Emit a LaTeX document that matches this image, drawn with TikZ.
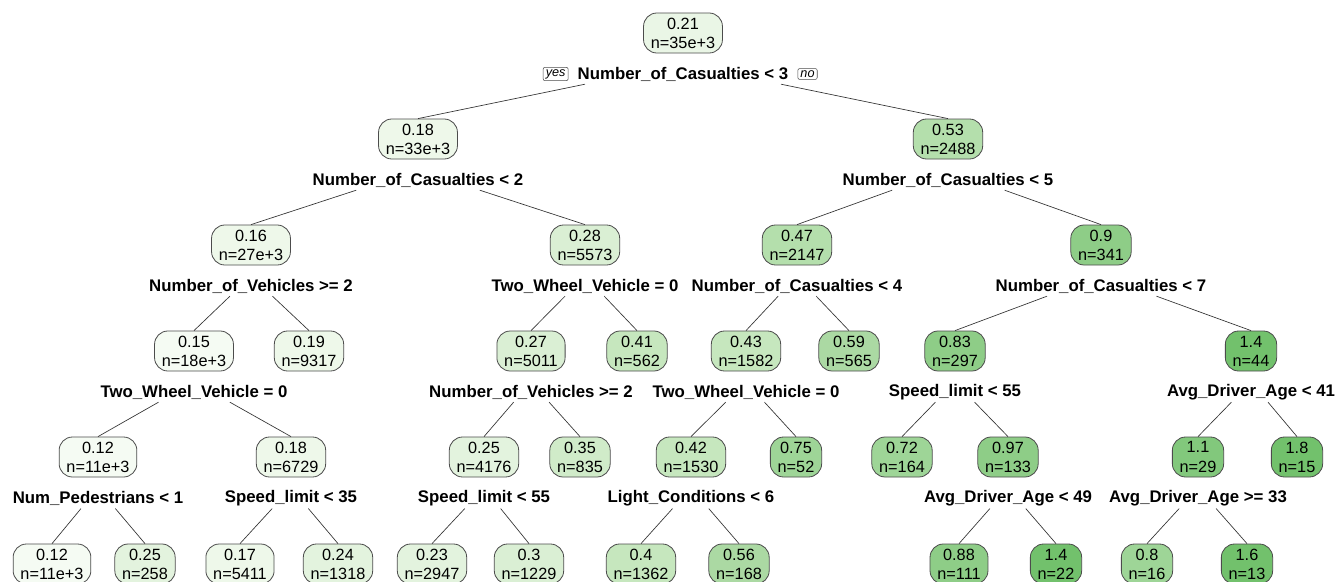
\documentclass[tikz,border=0pt]{standalone}
\usepackage{fontspec}
\setmainfont{Liberation Sans}
\usetikzlibrary{calc}

% fill shades for the fitted values, light to dark
\definecolor{g1}{HTML}{F5FBF3}
\definecolor{g2}{HTML}{EEF8EA}
\definecolor{groot}{HTML}{EAF6E6}
\definecolor{g3}{HTML}{E3F3DE}
\definecolor{g4}{HTML}{DAEFD4}
\definecolor{g5}{HTML}{D0EBC9}
\definecolor{g6}{HTML}{C6E7BE}
\definecolor{g7}{HTML}{B4DFAC}
\definecolor{g7a}{HTML}{ABD9A3}
\definecolor{g8}{HTML}{9ED597}
\definecolor{g9}{HTML}{8ECD87}
\definecolor{g10}{HTML}{82C87C}
\definecolor{g11}{HTML}{72C16C}

\tikzset{
  box/.style={draw=black!70, line width=0.6pt, rounded corners=10pt, align=center,
    font=\fontsize{12.2}{14.3}\selectfont, minimum height=30pt,
    inner xsep=5.5pt, inner ysep=1pt},
  splitlab/.style={font=\bfseries\fontsize{12.6}{14}\selectfont, inner sep=0pt},
  edge/.style={draw=black!80, line width=0.5pt},
  yn/.style={draw=black!70, line width=0.4pt, rounded corners=1.5pt,
    font=\itshape\fontsize{9.5}{10}\selectfont, inner xsep=2pt, inner ysep=1.5pt},
}

% tree node: id, x, y, fill, value, count
\newcommand\tnode[6]{\node[box,fill=#4] (n#1) at (#2,#3) {#5\\n=#6};}
% split label under node id, plus the point its branches start from
\newcommand\tsplit[2]{%
  \node[splitlab] (s#1) at ($(n#1)+(0,41)$) {#2};
  \coordinate (t#1) at ($(n#1)+(0,31)$);}
% branch from the split label of node #1 down to child #2
\newcommand\branch[2]{\draw[edge] ($(t#1)!0.37!(n#2.north)$) -- (n#2.north);}

\begin{document}
\begin{tikzpicture}[x=0.75pt,y=-0.75pt]
\useasboundingbox (0,0) rectangle (1336,582);
\fill[white] (0,0) rectangle (1336,582);
\clip (0,0) rectangle (1336,582);

% level 0
\tnode{0}{683}{33}{groot}{0.21}{35e+3}
% level 1
\tnode{1}{418}{139}{g2}{0.18}{33e+3}
\tnode{2}{948}{139}{g7}{0.53}{2488}
% level 2
\tnode{3}{251}{245}{g2}{0.16}{27e+3}
\tnode{4}{585}{245}{g4}{0.28}{5573}
\tnode{5}{797}{245}{g7}{0.47}{2147}
\tnode{6}{1101}{245}{g9}{0.9}{341}
% level 3
\tnode{7}{194}{351}{g1}{0.15}{18e+3}
\tnode{8}{309}{351}{g2}{0.19}{9317}
\tnode{9}{531}{351}{g4}{0.27}{5011}
\tnode{10}{637}{351}{g6}{0.41}{562}
\tnode{11}{746}{351}{g6}{0.43}{1582}
\tnode{12}{849}{351}{g7a}{0.59}{565}
\tnode{13}{955}{351}{g9}{0.83}{297}
\tnode{14}{1251}{351}{g11}{1.4}{44}
% level 4
\tnode{15}{98}{457}{g1}{0.12}{11e+3}
\tnode{16}{291}{457}{g2}{0.18}{6729}
\tnode{17}{484}{457}{g3}{0.25}{4176}
\tnode{18}{580}{457}{g5}{0.35}{835}
\tnode{19}{691}{457}{g6}{0.42}{1530}
\tnode{20}{796}{457}{g8}{0.75}{52}
\tnode{21}{902}{457}{g8}{0.72}{164}
\tnode{22}{1008}{457}{g9}{0.97}{133}
\tnode{23}{1198}{457}{g10}{1.1}{29}
\tnode{24}{1297}{457}{g11}{1.8}{15}
% level 5
\tnode{25}{52}{564}{g1}{0.12}{11e+3}
\tnode{26}{145}{564}{g3}{0.25}{258}
\tnode{27}{240}{564}{g2}{0.17}{5411}
\tnode{28}{338}{564}{g3}{0.24}{1318}
\tnode{29}{432}{564}{g3}{0.23}{2947}
\tnode{30}{529}{564}{g4}{0.3}{1229}
\tnode{31}{641}{564}{g6}{0.4}{1362}
\tnode{32}{739}{564}{g7a}{0.56}{168}
\tnode{33}{959}{564}{g9}{0.88}{111}
\tnode{34}{1056}{564}{g11}{1.4}{22}
\tnode{35}{1147}{564}{g8}{0.8}{16}
\tnode{36}{1247}{564}{g11}{1.6}{13}

% split labels
\tsplit{0}{Number\_of\_Casualties < 3}
\tsplit{1}{Number\_of\_Casualties < 2}
\tsplit{2}{Number\_of\_Casualties < 5}
\tsplit{3}{Number\_of\_Vehicles >= 2}
\tsplit{4}{Two\_Wheel\_Vehicle = 0}
\tsplit{5}{Number\_of\_Casualties < 4}
\tsplit{6}{Number\_of\_Casualties < 7}
\tsplit{7}{Two\_Wheel\_Vehicle = 0}
\tsplit{9}{Number\_of\_Vehicles >= 2}
\tsplit{11}{Two\_Wheel\_Vehicle = 0}
\tsplit{13}{Speed\_limit < 55}
\tsplit{14}{Avg\_Driver\_Age < 41}
\tsplit{15}{Num\_Pedestrians < 1}
\tsplit{16}{Speed\_limit < 35}
\tsplit{17}{Speed\_limit < 55}
\tsplit{19}{Light\_Conditions < 6}
\tsplit{22}{Avg\_Driver\_Age < 49}
\tsplit{23}{Avg\_Driver\_Age >= 33}

% yes / no tags beside the root split
\node[yn,anchor=east] (yes) at ($(s0.west)+(-9,0)$) {yes};
\node[yn,anchor=west] (no) at ($(s0.east)+(9,0)$) {no};

% branches
\branch{0}{1}  \branch{0}{2}
\branch{1}{3}  \branch{1}{4}
\branch{2}{5}  \branch{2}{6}
\branch{3}{7}  \branch{3}{8}
\branch{4}{9}  \branch{4}{10}
\branch{5}{11} \branch{5}{12}
\branch{6}{13} \branch{6}{14}
\branch{7}{15} \branch{7}{16}
\branch{9}{17} \branch{9}{18}
\branch{11}{19} \branch{11}{20}
\branch{13}{21} \branch{13}{22}
\branch{14}{23} \branch{14}{24}
\branch{15}{25} \branch{15}{26}
\branch{16}{27} \branch{16}{28}
\branch{17}{29} \branch{17}{30}
\branch{19}{31} \branch{19}{32}
\branch{22}{33} \branch{22}{34}
\branch{23}{35} \branch{23}{36}
\end{tikzpicture}
\end{document}
